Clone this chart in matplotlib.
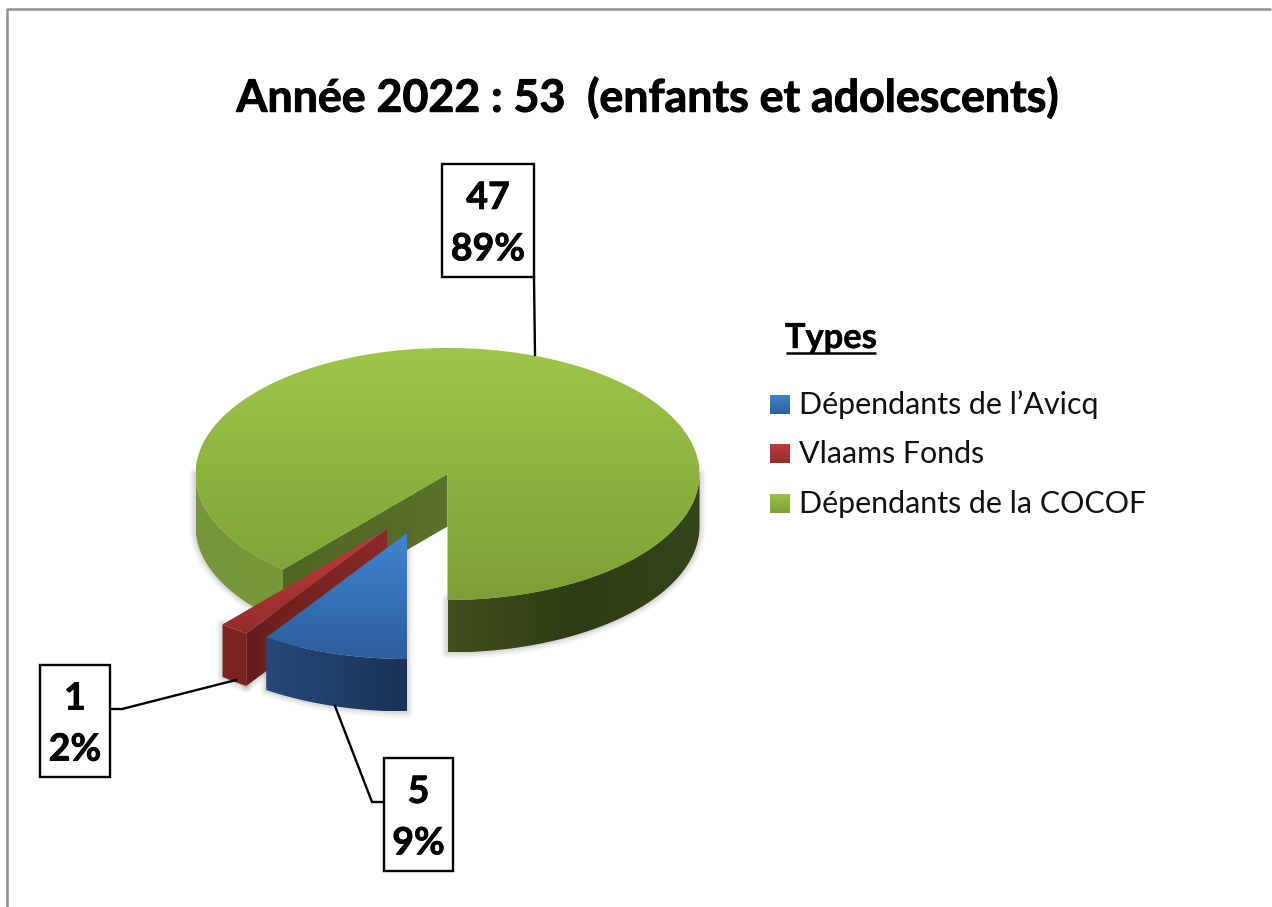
import numpy as np
import matplotlib
matplotlib.use("Agg")
import matplotlib.pyplot as plt
import matplotlib.patheffects as pe
from matplotlib.patches import Polygon, Rectangle
from matplotlib.colors import LinearSegmentedColormap

# ---- data ----
title = "Année 2022 : 53  (enfants et adolescents)"
legend_title = "Types"
categories = ["Dépendants de l’Avicq", "Vlaams Fonds", "Dépendants de la COCOF"]
values = [5, 1, 47]

# ---- style / layout ----
FONT = "Lato"
CX, CY, RX, RY, DEPTH = 447.5, 474.0, 252.0, 126.0, 52.5
START = 180.0  # clockwise from top
explode = [(-40.5, 59.0), (-60.5, 55.0), (0.0, 0.0)]
top_cols = [("#4086d2", "#2c5d9c"), ("#c23c3c", "#952c2c"), ("#9fc647", "#7d9f37")]
wall_front = [("#25497c", "#1a3357"), ("#7e2423", "#7a2321"), ("#76963a", "#78983a")]
wall_front_r = ("#414f1b", "#2e3d14", "#35441a")
wall_side = [None, ("#661c1b", "#8a2a28"), ("#4f6622", "#5a7229")]
box_pos = [(384, 758, 69, 113), (40, 665, 70, 112), (442, 164, 92, 113)]
leaders = [([384, 372, 335], [802, 802, 706]),
           ([110, 122, 236], [709, 709, 680]),
           ([534, 535], [277, 355])]

fig = plt.figure(figsize=(12.72, 9.07), dpi=100, facecolor="white")
ax = fig.add_axes([0, 0, 1, 1])
ax.set_xlim(0, 1272)
ax.set_ylim(907, 0)
ax.axis("off")


def pts(t0, t1, cx, cy, dy=0.0, n=160):
    th = np.radians(np.linspace(t0, t1, n))
    return np.c_[cx + RX * np.sin(th), cy + dy - RY * np.cos(th)]


def grad_fill(poly, *cols, horizontal=False, z=2):
    poly = np.asarray(poly)
    cmap = LinearSegmentedColormap.from_list("g", list(cols))
    arr = np.linspace(0, 1, 256)
    arr = arr[None, :] if horizontal else arr[:, None]
    ext = (poly[:, 0].min(), poly[:, 0].max(), poly[:, 1].max(), poly[:, 1].min())
    im = ax.imshow(arr, cmap=cmap, extent=ext, aspect="auto", zorder=z, origin="upper",
                   interpolation="bilinear", vmin=0, vmax=1)
    patch = Polygon(poly, closed=True, transform=ax.transData, fc="none", ec="none")
    ax.add_patch(patch)
    im.set_clip_path(patch)
    ax.set_xlim(0, 1272)
    ax.set_ylim(907, 0)


def wall(t0, t1, cx, cy):
    a = pts(t0, t1, cx, cy)
    b = pts(t0, t1, cx, cy, DEPTH)
    return np.vstack([a, b[::-1]])


def soft_shadow(poly, z=1):
    for lw, al in ((9, .05), (6, .07), (3, .10)):
        ax.add_patch(Polygon(poly, closed=True, fc="none", ec="#555555",
                             lw=lw, alpha=al, zorder=z, joinstyle="round"))


def heavy(w):
    return [pe.withStroke(linewidth=w, foreground="black")]


# slice angles derived from the values
total = sum(values)
sweeps = [v / total * 360 for v in values]
edges = START + np.cumsum([0] + sweeps)

# frame
ax.plot([7, 7, 1271], [907, 9, 9], color="#8f8f8f", lw=1.8, zorder=0, solid_capstyle="butt")

# green slice (drawn first, it sits behind)
g0, g1 = edges[2], edges[3]
gx, gy = CX + explode[2][0], CY + explode[2][1]
left_wall = wall(g0, 270, gx, gy)
right_wall = wall(90, 180, gx, gy)
soft_shadow(left_wall)
soft_shadow(right_wall)
grad_fill(left_wall, *wall_front[2], horizontal=True, z=2)
grad_fill(right_wall, *wall_front_r[::1], horizontal=True, z=2)
apex = np.array([[gx, gy]])
outer = pts(g0, g0, gx, gy, n=1)
inner = np.vstack([apex, outer, outer + [0, DEPTH], apex + [0, DEPTH]])
grad_fill(inner, *wall_side[2], horizontal=True, z=3)
grad_fill(np.vstack([apex, pts(g0, g1, gx, gy, n=400)]), *top_cols[2], z=4)

# red slice
r0, r1 = edges[1], edges[2]
rx_, ry_ = CX + explode[1][0], CY + explode[1][1]
apex = np.array([[rx_, ry_]])
outer = pts(r0, r0, rx_, ry_, n=1)
side = np.vstack([apex, outer, outer + [0, DEPTH], apex + [0, DEPTH]])
soft_shadow(side, z=5)
front = wall(r0, r1, rx_, ry_)
soft_shadow(front, z=5)
grad_fill(side, *wall_side[1], horizontal=True, z=6)
grad_fill(front, *wall_front[1], horizontal=True, z=6)
grad_fill(np.vstack([apex, pts(r0, r1, rx_, ry_, n=30)]), *top_cols[1], z=7)

# blue slice
b0, b1 = edges[0], edges[1]
bx, by = CX + explode[0][0], CY + explode[0][1]
apex = np.array([[bx, by]])
front = wall(b0, b1, bx, by)
top = np.vstack([apex, pts(b0, b1, bx, by, n=60)])
soft_shadow(np.vstack([top, front]), z=8)
grad_fill(front, *wall_front[0], horizontal=True, z=9)
grad_fill(top, *top_cols[0], z=10)

# value labels
for (x, y, w, h), (lx, ly), v in zip(box_pos, leaders, values):
    ax.plot(lx, ly, color="black", lw=1.7, zorder=11, solid_joinstyle="miter")
    ax.add_patch(Rectangle((x, y), w, h, fc="white", ec="black", lw=1.7, zorder=12))
    for frac, s in ((0.30, f"{v}"), (0.755, f"{v / total * 100:.0f}%")):
        ax.text(x + w / 2, y + h * frac, s, ha="center", va="center", fontsize=27,
                fontweight="bold", family=FONT, color="black", zorder=13,
                path_effects=heavy(0.6))

# title
ax.text(647.5, 98, title, ha="center", va="center", fontsize=32.2, fontweight="bold",
        family=FONT, color="black", path_effects=heavy(0.7))

# legend
ax.text(831, 338, legend_title, ha="center", va="center", fontsize=24.8, fontweight="bold",
        family=FONT, color="black", path_effects=heavy(0.3))
ax.plot([785.5, 876], [352.5, 352.5], color="black", lw=1.8, solid_capstyle="butt")
leg_y = [404.5, 454, 503.5]
for y, lab, (c0, c1) in zip(leg_y, categories, top_cols):
    sq = np.array([[770, y - 10], [789.5, y - 10], [789.5, y + 9.5], [770, y + 9.5]])
    grad_fill(sq, c0, c1, z=5)
    ax.text(799, y, lab, ha="left", va="center", fontsize=21.9, family=FONT, color="#111111")

fig.savefig("out.png", dpi=100, facecolor="white")
